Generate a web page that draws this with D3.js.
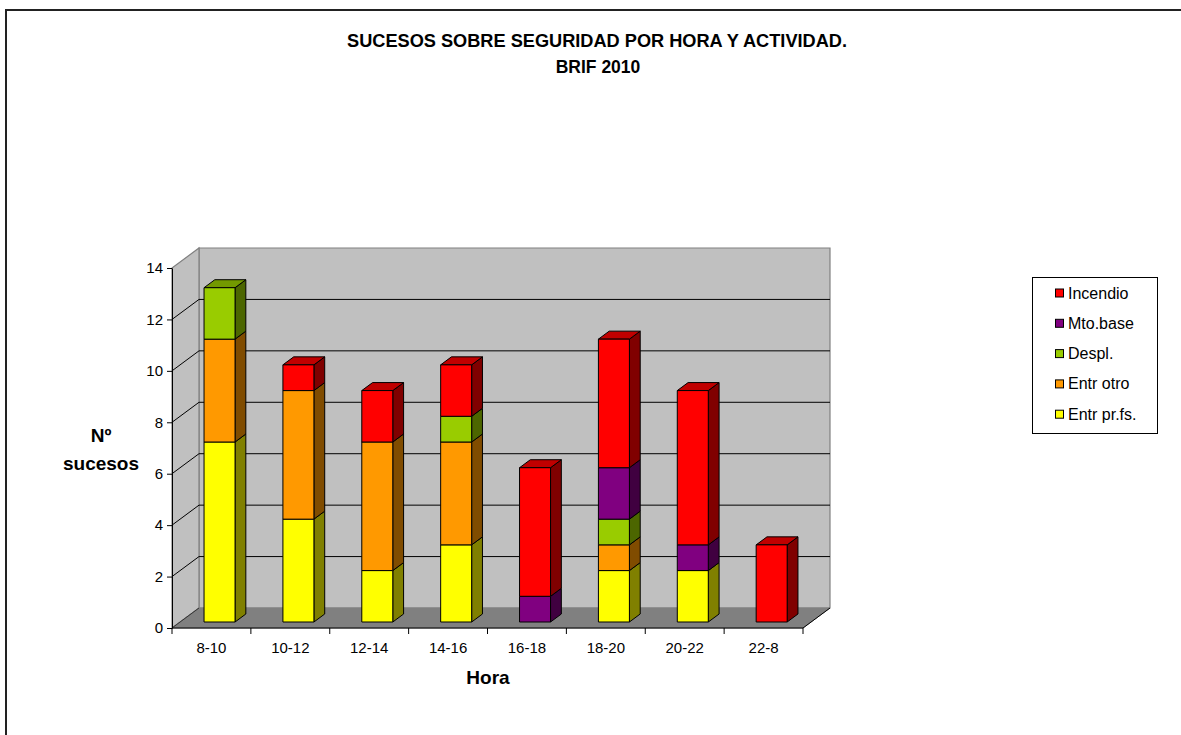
<!DOCTYPE html>
<html>
<head>
<meta charset="utf-8">
<script src="https://cdn.jsdelivr.net/npm/d3@7"></script>
<style>
  html, body { margin: 0; padding: 0; background: #ffffff; }
  svg { display: block; }
  text { font-family: Arial, "Liberation Sans", sans-serif; fill: #000; }
</style>
</head>
<body>
<svg id="chart" width="1181" height="735"></svg>
<script>
// ---- data ----
const categories = ["8-10", "10-12", "12-14", "14-16", "16-18", "18-20", "20-22", "22-8"];
const seriesNames = ["Entr pr.fs.", "Entr otro", "Despl.", "Mto.base", "Incendio"];
const entrPrFs = [7, 4, 2, 3, 0, 2, 2, 0];
const entrOtro = [4, 5, 5, 4, 0, 1, 0, 0];
const despl    = [2, 0, 0, 1, 0, 1, 0, 0];
const mtoBase  = [0, 0, 0, 0, 1, 2, 1, 0];
const incendio = [0, 1, 2, 2, 5, 5, 6, 3];
const yTicks = [0, 2, 4, 6, 8, 10, 12, 14];
const legendOrder = ["Incendio", "Mto.base", "Despl.", "Entr otro", "Entr pr.fs."];
const titleLines = ["SUCESOS SOBRE SEGURIDAD POR HORA Y ACTIVIDAD.", "BRIF 2010"];

const seriesValues = {
  "Entr pr.fs.": entrPrFs, "Entr otro": entrOtro, "Despl.": despl,
  "Mto.base": mtoBase, "Incendio": incendio
};
const colors = {
  "Entr pr.fs.": { front: "#FFFF00", side: "#808000", top: "#C0C000" },
  "Entr otro":   { front: "#FF9900", side: "#804C00", top: "#C07300" },
  "Despl.":      { front: "#99CC00", side: "#4C6600", top: "#739900" },
  "Mto.base":    { front: "#800080", side: "#400040", top: "#600060" },
  "Incendio":    { front: "#FF0000", side: "#800000", top: "#C00000" }
};

// ---- layout ----
const svg = d3.select("#chart");
const DX = 27, DY = -20;          // depth offset of 3D walls
const d0 = 0.3, d1 = 0.7;         // bar depth span (fraction of depth)

const x = d3.scaleBand().domain(categories).range([172, 803]).paddingInner(0).paddingOuter(0);
const y = d3.scaleLinear().domain([0, 14]).range([628, 268]);
const barW = x.bandwidth() * 0.393;

// outer frame
svg.append("rect").attr("x", 6).attr("y", 10).attr("width", 1300).attr("height", 900)
  .attr("fill", "none").attr("stroke", "#222").attr("stroke-width", 2);

// title
svg.append("text").attr("x", 597).attr("y", 47).attr("text-anchor", "middle")
  .attr("font-size", 17.5).attr("font-weight", "bold")
  .attr("textLength", 500).attr("lengthAdjust", "spacingAndGlyphs")
  .text(titleLines[0]);
svg.append("text").attr("x", 598).attr("y", 73).attr("text-anchor", "middle")
  .attr("font-size", 17.5).attr("font-weight", "bold")
  .text(titleLines[1]);

const x0 = x.range()[0], x1 = x.range()[1];
const yb = y(0), yt = y(14);

// back wall
svg.append("polygon")
  .attr("points", [[x0 + DX, yt + DY], [x1 + DX, yt + DY], [x1 + DX, yb + DY], [x0 + DX, yb + DY]].join(" "))
  .attr("fill", "#C0C0C0").attr("stroke", "#808080").attr("stroke-width", 1.2);
// side wall
svg.append("polygon")
  .attr("points", [[x0, yt], [x0 + DX, yt + DY], [x0 + DX, yb + DY], [x0, yb]].join(" "))
  .attr("fill", "#C0C0C0").attr("stroke", "#808080").attr("stroke-width", 1.2);
// floor
svg.append("polygon")
  .attr("points", [[x0, yb], [x0 + DX, yb + DY], [x1 + DX, yb + DY], [x1, yb]].join(" "))
  .attr("fill", "#808080").attr("stroke", "#808080").attr("stroke-width", 1);

// gridlines (side + back wall)
const grid = svg.append("g");
yTicks.filter(t => t > 0 && t < 14).forEach(t => {
  grid.append("path")
    .attr("d", `M${x0},${y(t)}L${x0 + DX},${y(t) + DY}L${x1 + DX},${y(t) + DY}`)
    .attr("fill", "none").attr("stroke", "#000").attr("stroke-width", 1);
});
grid.append("line").attr("x1", x0).attr("y1", yb).attr("x2", x0 + DX).attr("y2", yb + DY)
  .attr("stroke", "#333").attr("stroke-width", 1);
grid.append("line").attr("x1", x1).attr("y1", yb).attr("x2", x1 + DX).attr("y2", yb + DY)
  .attr("stroke", "#000").attr("stroke-width", 1);

// bars
const table = categories.map((c, i) => {
  const row = { cat: c };
  seriesNames.forEach(s => row[s] = seriesValues[s][i]);
  return row;
});
const stacked = d3.stack().keys(seriesNames)(table);
const bars = svg.append("g");
categories.forEach((c, i) => {
  const fx0 = x(c) + (x.bandwidth() - barW) / 2 + d0 * DX;
  const fx1 = fx0 + barW;
  const ddx = (d1 - d0) * DX, ddy = (d1 - d0) * DY;
  const segs = stacked.map(s => ({ key: s.key, y0: s[i][0], y1: s[i][1] })).filter(s => s.y1 > s.y0);
  segs.forEach((s, k) => {
    const col = colors[s.key];
    const ft = y(s.y1) + d0 * DY, fb = y(s.y0) + d0 * DY;
    const g = bars.append("g").attr("stroke", "#000").attr("stroke-width", 1).attr("stroke-linejoin", "round");
    g.append("polygon")
      .attr("points", [[fx1, ft], [fx1 + ddx, ft + ddy], [fx1 + ddx, fb + ddy], [fx1, fb]].join(" "))
      .attr("fill", col.side);
    if (k === segs.length - 1) {
      g.append("polygon")
        .attr("points", [[fx0, ft], [fx0 + ddx, ft + ddy], [fx1 + ddx, ft + ddy], [fx1, ft]].join(" "))
        .attr("fill", col.top);
    }
    g.append("rect").attr("x", fx0).attr("y", ft).attr("width", barW).attr("height", fb - ft)
      .attr("fill", col.front);
  });
});

// y axis
const yAxis = svg.append("g").attr("transform", `translate(${x0},0)`)
  .call(d3.axisLeft(y).tickValues(yTicks).tickSize(5).tickSizeOuter(0).tickPadding(4));
yAxis.selectAll("text").attr("font-size", 15).style("font-family", "Arial, 'Liberation Sans', sans-serif");
yAxis.select(".domain").attr("stroke", "#000");

// x axis: labels centered, ticks on band boundaries
const xAxis = svg.append("g").attr("transform", `translate(0,${yb})`)
  .call(d3.axisBottom(x).tickSize(0).tickPadding(14));
xAxis.selectAll("text").attr("font-size", 15).style("font-family", "Arial, 'Liberation Sans', sans-serif");
xAxis.select(".domain").remove();
svg.append("line").attr("x1", x0).attr("x2", x1).attr("y1", yb).attr("y2", yb).attr("stroke", "#000");
const bounds = categories.map(c => x(c)).concat([x1]);
svg.append("g").selectAll("line").data(bounds).join("line")
  .attr("x1", d => d).attr("x2", d => d).attr("y1", yb).attr("y2", yb + 6)
  .attr("stroke", "#000");

// axis titles
svg.append("text").attr("x", 488).attr("y", 684).attr("text-anchor", "middle")
  .attr("font-size", 19).attr("font-weight", "bold").text("Hora");
const yt1 = svg.append("text").attr("x", 101).attr("text-anchor", "middle")
  .attr("font-size", 19).attr("font-weight", "bold");
yt1.append("tspan").attr("x", 101).attr("y", 442).text("Nº");
yt1.append("tspan").attr("x", 101).attr("y", 470).text("sucesos");

// legend
const lg = svg.append("g");
lg.append("rect").attr("x", 1032.5).attr("y", 277.5).attr("width", 125).attr("height", 156)
  .attr("fill", "#fff").attr("stroke", "#000").attr("stroke-width", 1);
legendOrder.forEach((name, i) => {
  const cy = 293 + i * 30.3;
  lg.append("rect").attr("x", 1055.5).attr("y", cy - 4).attr("width", 8).attr("height", 8)
    .attr("fill", colors[name].front).attr("stroke", "#000").attr("stroke-width", 1);
  lg.append("text").attr("x", 1068).attr("y", cy + 5.5).attr("font-size", 16).text(name);
});
</script>
</body>
</html>
